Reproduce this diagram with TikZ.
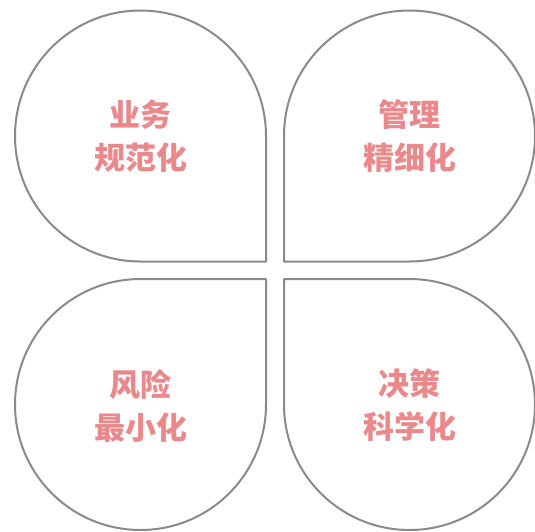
\documentclass[tikz,border=0pt]{standalone}
\usepackage{fontspec}
\newfontfamily\cjk{Noto Sans CJK SC}
\definecolor{petalline}{RGB}{138,138,138}
\definecolor{petalpink}{RGB}{233,137,140}
\def\rad{125.5}

\begin{document}
\begin{tikzpicture}[x=1pt,y=1pt,yscale=-1,xscale=1,
  petal/.style={draw=petalline,line width=2pt,line join=round},
  petaltext/.style={inner sep=0pt,align=center,text=petalpink,
    font=\cjk\bfseries\fontsize{31}{43}\selectfont}]
\useasboundingbox (0,0) rectangle (535,531);

%Shape: petal top left
\draw [petal] (266,136) arc [start angle=0,end angle=-270,radius=\rad] -- (266,261.5) -- cycle ;
%Shape: petal top right
\draw [petal] (409.5,261.5) arc [start angle=90,end angle=-180,radius=\rad] -- (284,261.5) -- cycle ;
%Shape: petal bottom left
\draw [petal] (140.5,279) arc [start angle=-90,end angle=-360,radius=\rad] -- (266,279) -- cycle ;
%Shape: petal bottom right
\draw [petal] (284,404.5) arc [start angle=180,end angle=-90,radius=\rad] -- (284,279) -- cycle ;

% Text Node
\node [petaltext] (business) at (140.5,136) {业务\\规范化};
% Text Node
\node [petaltext] (manage) at (409.5,136) {管理\\精细化};
% Text Node
\node [petaltext] (risk) at (140.5,405.5) {风险\\最小化};
% Text Node
\node [petaltext] (decision) at (409.5,405.5) {决策\\科学化};
\end{tikzpicture}
\end{document}
